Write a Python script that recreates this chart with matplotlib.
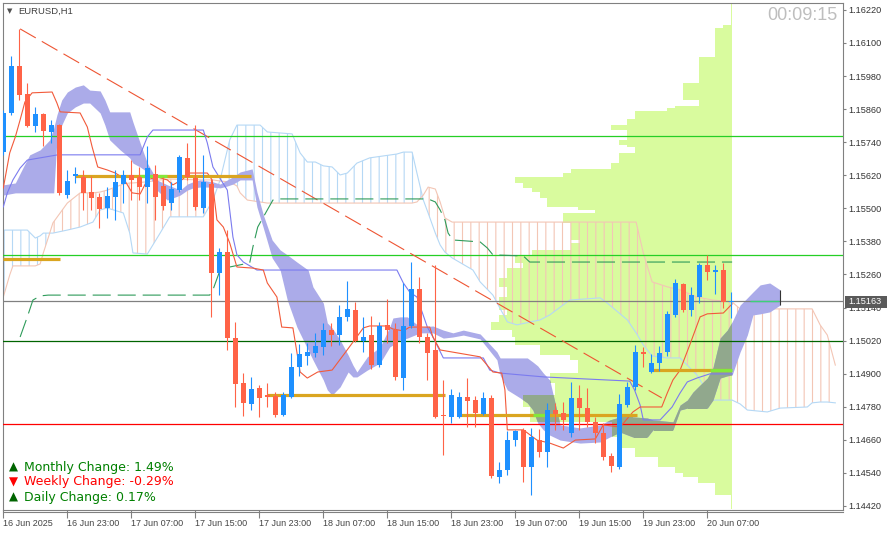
"""EURUSD H1 chart in MT4 look: candles, two Ichimoku style clouds,
tenkan/kijun lines, trend line, session levels and a volume profile."""

import matplotlib
matplotlib.use("Agg")

import matplotlib.pyplot as plt
import numpy as np
from matplotlib.lines import Line2D
from matplotlib.patches import Rectangle
from matplotlib.path import Path

plt.rcParams["font.family"] = ["Liberation Sans", "DejaVu Sans"]
plt.rcParams["hatch.linewidth"] = 0.8
plt.rcParams["lines.scale_dashes"] = False

# ---- candles, one per hour from 16 Jun 15:00 to 20 Jun 10:00 ----
OPEN = [1.15704, 1.15846, 1.16016, 1.15915, 1.15799, 1.15842, 1.15777, 1.15802, 1.15548, 1.15617,
        1.15613, 1.15559, 1.15541, 1.15501, 1.15541, 1.15588, 1.15621, 1.15613, 1.15577, 1.15624,
        1.15581, 1.15519, 1.15566, 1.15682, 1.15610, 1.15501, 1.15588, 1.15265, 1.15341, 1.15029,
        1.14866, 1.14790, 1.14848, 1.14822, 1.14819, 1.14750, 1.14815, 1.14924, 1.14964, 1.14975,
        1.14997, 1.15058, 1.15040, 1.15105, 1.15131, 1.15018, 1.15040, 1.14931, 1.15076, 1.15058,
        1.14884, 1.15073, 1.15207, 1.15033, 1.14986, 1.14750, 1.14743, 1.14743, 1.14815, 1.14804,
        1.14753, 1.14811, 1.14525, 1.14550, 1.14659, 1.14696, 1.14561, 1.14659, 1.14615, 1.14768,
        1.14757, 1.14685, 1.14811, 1.14775, 1.14724, 1.14685, 1.14601, 1.14561, 1.14786, 1.14851,
        1.14979, 1.14906, 1.14939, 1.14979, 1.15113, 1.15225, 1.15131, 1.15178, 1.15294, 1.15269,
        1.15276, 1.15160]
HIGH = [1.15857, 1.16053, 1.16151, 1.15955, 1.15868, 1.15846, 1.15820, 1.15806, 1.15639, 1.15650,
        1.15639, 1.15617, 1.15555, 1.15577, 1.15639, 1.15639, 1.15675, 1.15650, 1.15726, 1.15657,
        1.15613, 1.15595, 1.15693, 1.15737, 1.15802, 1.15693, 1.15606, 1.15356, 1.15421, 1.15087,
        1.14902, 1.14888, 1.14859, 1.14866, 1.14833, 1.14833, 1.14975, 1.15007, 1.15011, 1.15047,
        1.15084, 1.15084, 1.15149, 1.15236, 1.15160, 1.15105, 1.15109, 1.15087, 1.15171, 1.15084,
        1.15229, 1.15305, 1.15251, 1.15047, 1.15294, 1.14877, 1.14844, 1.14833, 1.14884, 1.14819,
        1.14833, 1.14822, 1.14580, 1.14692, 1.14696, 1.14703, 1.14703, 1.14699, 1.14793, 1.14793,
        1.14797, 1.14870, 1.14859, 1.14848, 1.14743, 1.14721, 1.14612, 1.14826, 1.14870, 1.15004,
        1.14997, 1.14971, 1.15000, 1.15127, 1.15243, 1.15229, 1.15214, 1.15301, 1.15331, 1.15294,
        1.15301, 1.15196]
LOW = [1.15693, 1.15840, 1.15893, 1.15795, 1.15777, 1.15726, 1.15737, 1.15548, 1.15537, 1.15592,
       1.15494, 1.15494, 1.15428, 1.15465, 1.15457, 1.15519, 1.15530, 1.15530, 1.15519, 1.15457,
       1.15494, 1.15494, 1.15559, 1.15603, 1.15494, 1.15483, 1.15105, 1.15185, 1.14986, 1.14779,
       1.14746, 1.14768, 1.14742, 1.14779, 1.14742, 1.14746, 1.14812, 1.14891, 1.14931, 1.14960,
       1.14968, 1.15000, 1.15004, 1.15091, 1.15015, 1.14979, 1.14917, 1.14924, 1.15011, 1.14877,
       1.14841, 1.15065, 1.15011, 1.14877, 1.14739, 1.14604, 1.14721, 1.14739, 1.14706, 1.14706,
       1.14750, 1.14521, 1.14503, 1.14532, 1.14637, 1.14507, 1.14460, 1.14597, 1.14561, 1.14696,
       1.14696, 1.14670, 1.14696, 1.14706, 1.14648, 1.14586, 1.14543, 1.14554, 1.14779, 1.14841,
       1.14924, 1.14902, 1.14910, 1.14964, 1.15105, 1.15124, 1.15109, 1.15156, 1.15240, 1.15189,
       1.15138, 1.15102]
CLOSE = [1.15846, 1.16016, 1.15911, 1.15799, 1.15842, 1.15780, 1.15802, 1.15555, 1.15599, 1.15624,
         1.15555, 1.15537, 1.15497, 1.15544, 1.15595, 1.15621, 1.15603, 1.15577, 1.15646, 1.15541,
         1.15508, 1.15570, 1.15686, 1.15613, 1.15505, 1.15595, 1.15265, 1.15341, 1.15029, 1.14862,
         1.14793, 1.14844, 1.14812, 1.14815, 1.14750, 1.14822, 1.14924, 1.14971, 1.14979, 1.15000,
         1.15058, 1.15040, 1.15105, 1.15134, 1.15018, 1.15033, 1.14931, 1.15073, 1.15058, 1.14888,
         1.15073, 1.15207, 1.15033, 1.14975, 1.14743, 1.14746, 1.14822, 1.14815, 1.14800, 1.14757,
         1.14811, 1.14529, 1.14550, 1.14659, 1.14692, 1.14561, 1.14670, 1.14615, 1.14768, 1.14753,
         1.14732, 1.14811, 1.14775, 1.14724, 1.14685, 1.14597, 1.14565, 1.14790, 1.14851, 1.14979,
         1.14971, 1.14939, 1.14975, 1.15116, 1.15229, 1.15131, 1.15185, 1.15294, 1.15269, 1.15276,
         1.15160, 1.15163]

TIME_TICKS = [0, 8, 16, 24, 32, 40, 48, 56, 64, 72, 80, 88]
TIME_LABELS = ["16 Jun 2025", "16 Jun 23:00", "17 Jun 07:00", "17 Jun 15:00",
               "17 Jun 23:00", "18 Jun 07:00", "18 Jun 15:00", "18 Jun 23:00",
               "19 Jun 07:00", "19 Jun 15:00", "19 Jun 23:00", "20 Jun 07:00"]
PRICE_TICKS = [1.14420, 1.14540, 1.14660, 1.14780, 1.14900, 1.15020, 1.15140, 1.15260,
               1.15380, 1.15500, 1.15620, 1.15740, 1.15860, 1.15980, 1.16100, 1.16220]
LAST_PRICE = 1.15163
TIMER = "00:09:15"
SYMBOL = "EURUSD,H1"

# ---- main cloud (filled) ----
CLOUD_X = [0.0, 1.5, 2.5, 3.3, 4.6, 5.8, 6.3, 6.7, 7.3, 8.0, 9.0, 10.0, 10.8, 12.1, 12.7, 13.3,
           14.6, 15.8, 16.2, 17.1, 18.0, 19.2, 20.5, 21.5, 22.1, 23.0, 23.7, 24.6, 26.2, 27.1,
           28.0, 28.7, 29.6, 31.1, 31.7, 32.5, 33.6, 34.6, 35.5, 36.7, 38.1, 38.7, 40.0, 40.5,
           41.1, 42.1, 43.1, 43.7, 44.2, 45.5, 47.1, 48.3, 48.7, 49.6, 50.5, 52.1, 53.7, 55.0,
           56.2, 57.5, 59.6, 61.7, 62.1, 63.0, 64.6, 65.5, 66.2, 66.8, 67.5, 68.3, 69.6, 72.1,
           74.6, 75.8, 77.1, 78.7, 80.5, 81.2, 83.7, 84.6, 85.5, 86.2, 87.1, 88.0, 88.7, 89.6,
           90.5, 91.1, 92.1, 93.0, 93.7, 94.6, 95.8, 97.1]
CLOUD_TOP = [1.15585, 1.15592, 1.15650, 1.15694, 1.15712, 1.15748, 1.15791, 1.15839, 1.15893,
             1.15922, 1.15940, 1.15948, 1.15929, 1.15926, 1.15893, 1.15850, 1.15850, 1.15850,
             1.15813, 1.15737, 1.15664, 1.15603, 1.15585, 1.15574, 1.15566, 1.15588, 1.15596,
             1.15603, 1.15596, 1.15588, 1.15603, 1.15614, 1.15632, 1.15643, 1.15559, 1.15476,
             1.15385, 1.15349, 1.15331, 1.15305, 1.15276, 1.15215, 1.15156, 1.15084, 1.15066,
             1.15022, 1.14968, 1.14931, 1.14906, 1.14961, 1.14997, 1.15069, 1.15102, 1.15106,
             1.15106, 1.15069, 1.15073, 1.15058, 1.15048, 1.15058, 1.15044, 1.14979, 1.14957,
             1.14957, 1.14957, 1.14957, 1.14942, 1.14928, 1.14902, 1.14877, 1.14714, 1.14703,
             1.14714, 1.14732, 1.14743, 1.14743, 1.14739, 1.14732, 1.14725, 1.14786, 1.14804,
             1.14833, 1.14859, 1.14884, 1.14921, 1.15029, 1.15058, 1.15088, 1.15149, 1.15175,
             1.15196, 1.15222, 1.15229, 1.15204]
CLOUD_BOT = [1.15548, 1.15556, 1.15556, 1.15556, 1.15556, 1.15556, 1.15556, 1.15748, 1.15802,
             1.15846, 1.15868, 1.15882, 1.15882, 1.15846, 1.15802, 1.15748, 1.15712, 1.15683,
             1.15664, 1.15650, 1.15632, 1.15566, 1.15530, 1.15541, 1.15548, 1.15566, 1.15574,
             1.15577, 1.15577, 1.15574, 1.15581, 1.15588, 1.15603, 1.15603, 1.15505, 1.15429,
             1.15320, 1.15276, 1.15167, 1.15069, 1.14986, 1.14950, 1.14877, 1.14841, 1.14822,
             1.14852, 1.14906, 1.14888, 1.14888, 1.14913, 1.14939, 1.14997, 1.15004, 1.15022,
             1.15029, 1.15048, 1.15048, 1.15029, 1.15033, 1.15040, 1.15026, 1.14950, 1.14895,
             1.14841, 1.14812, 1.14794, 1.14768, 1.14721, 1.14696, 1.14677, 1.14659, 1.14648,
             1.14652, 1.14670, 1.14688, 1.14670, 1.14670, 1.14696, 1.14696, 1.14768, 1.14775,
             1.14775, 1.14775, 1.14775, 1.14804, 1.14884, 1.14892, 1.14895, 1.14979, 1.15040,
             1.15113, 1.15117, 1.15124, 1.15149]

# ---- second cloud (hatched), light blue and pink spans ----
C2_X = [0.0, 0.8, 1.2, 3.0, 4.0, 4.6, 5.0, 5.8, 6.2, 8.0, 9.6, 11.2, 12.1, 13.0, 15.0, 15.8,
        16.2, 18.0, 19.6, 20.8, 25.0, 26.2, 27.1, 28.3, 29.2, 29.6, 30.5, 32.1, 33.0, 36.1,
        37.1, 38.0, 39.0, 40.0, 41.1, 42.1, 43.0, 44.2, 45.8, 49.2, 50.0, 51.1, 51.7, 52.5,
        53.1, 54.0, 54.6, 55.2, 56.1, 58.7, 59.6, 61.2, 63.0, 64.2, 67.1, 68.3, 70.8, 74.6,
        75.5, 78.0, 79.1, 80.0, 81.1, 83.0, 84.6, 86.7, 88.7, 91.1, 92.1, 93.0, 95.5, 97.1,
        100.5, 101.1, 102.1, 103.0, 104.0]
C2_BLUE = [1.15421, 1.15421, 1.15421, 1.15421, 1.15392, 1.15400, 1.15410, 1.15410, 1.15410,
           1.15421, 1.15432, 1.15450, 1.15494, 1.15501, 1.15483, 1.15410, 1.15338, 1.15334,
           1.15410, 1.15469, 1.15469, 1.15530, 1.15603, 1.15748, 1.15802, 1.15802, 1.15802,
           1.15802, 1.15777, 1.15770, 1.15701, 1.15668, 1.15668, 1.15654, 1.15650, 1.15621,
           1.15628, 1.15664, 1.15683, 1.15697, 1.15704, 1.15704, 1.15628, 1.15530, 1.15483,
           1.15410, 1.15367, 1.15341, 1.15320, 1.15276, 1.15233, 1.15185, 1.15088, 1.15077,
           1.15095, 1.15113, 1.15167, 1.15175, 1.15156, 1.15095, 1.15048, 1.15004, 1.14964,
           1.14957, 1.14957, 1.14895, 1.14804, 1.14804, 1.14790, 1.14768, 1.14761, 1.14775,
           1.14779, 1.14794, 1.14797, 1.14797, 1.14794]
C2_PINK = [1.15178, 1.15258, 1.15291, 1.15291, 1.15291, 1.15298, 1.15338, 1.15410, 1.15447,
           1.15519, 1.15556, 1.15556, 1.15559, 1.15566, 1.15588, 1.15592, 1.15592, 1.15596,
           1.15603, 1.15606, 1.15603, 1.15603, 1.15599, 1.15596, 1.15581, 1.15556, 1.15530,
           1.15523, 1.15519, 1.15519, 1.15519, 1.15519, 1.15519, 1.15519, 1.15519, 1.15519,
           1.15519, 1.15519, 1.15519, 1.15519, 1.15519, 1.15519, 1.15523, 1.15548, 1.15577,
           1.15570, 1.15523, 1.15465, 1.15450, 1.15450, 1.15450, 1.15450, 1.15450, 1.15450,
           1.15450, 1.15450, 1.15450, 1.15450, 1.15450, 1.15450, 1.15450, 1.15338, 1.15233,
           1.15215, 1.15204, 1.15178, 1.15167, 1.15160, 1.15135, 1.15135, 1.15135, 1.15135,
           1.15135, 1.15135, 1.15077, 1.15040, 1.14931]

# ---- indicator lines ----
TENKAN_X = [0.0, 0.8, 1.5, 2.1, 2.7, 3.6, 6.1, 6.7, 7.1, 9.6, 10.5, 11.1, 11.8, 13.0, 14.0,
            15.0, 16.1, 17.1, 18.0, 19.2, 20.5, 21.2, 22.3, 23.3, 25.5, 26.1, 26.7, 27.5, 28.3,
            29.2, 31.2, 32.5, 33.0, 34.2, 34.8, 36.2, 37.1, 38.0, 39.3, 41.1, 42.7, 43.9, 45.0,
            45.8, 47.9, 48.7, 50.0, 50.8, 53.3, 53.7, 54.6, 59.6, 61.2, 62.3, 62.7, 63.0, 65.0,
            66.7, 68.3, 70.0, 71.5, 74.0, 75.0, 77.1, 78.7, 79.6, 82.3, 83.0, 83.7, 84.6, 85.8,
            87.1, 88.0, 90.0, 91.1]
TENKAN_Y = [1.15574, 1.15701, 1.15759, 1.15821, 1.15886, 1.15919, 1.15922, 1.15882, 1.15850,
            1.15846, 1.15795, 1.15723, 1.15650, 1.15639, 1.15628, 1.15610, 1.15556, 1.15552,
            1.15603, 1.15614, 1.15603, 1.15585, 1.15603, 1.15628, 1.15628, 1.15603, 1.15458,
            1.15432, 1.15374, 1.15287, 1.15283, 1.15276, 1.15229, 1.15178, 1.15069, 1.15066,
            1.14906, 1.14884, 1.14906, 1.14913, 1.14975, 1.15022, 1.15066, 1.15073, 1.15073,
            1.15062, 1.15055, 1.15069, 1.15069, 1.15033, 1.14986, 1.14961, 1.14906, 1.14902,
            1.14841, 1.14696, 1.14696, 1.14659, 1.14648, 1.14630, 1.14659, 1.14663, 1.14714,
            1.14706, 1.14761, 1.14779, 1.14779, 1.14830, 1.14877, 1.14913, 1.15004, 1.15106,
            1.15117, 1.15120, 1.15153]
KIJUN_X = [0.0, 0.5, 1.2, 2.1, 3.0, 6.8, 17.1, 18.0, 18.7, 25.0, 25.5, 26.2, 28.0, 28.7, 29.2,
           30.0, 31.7, 49.2, 50.0, 50.8, 51.7, 53.0, 53.7, 55.0, 60.0, 60.8, 62.1, 67.6, 78.3,
           78.9, 79.6, 80.0, 82.1, 83.6, 84.6, 85.5, 86.7, 88.3, 91.1]
KIJUN_Y = [1.15505, 1.15556, 1.15603, 1.15646, 1.15675, 1.15694, 1.15694, 1.15759, 1.15784,
           1.15784, 1.15737, 1.15650, 1.15566, 1.15396, 1.15331, 1.15305, 1.15276, 1.15276,
           1.15229, 1.15196, 1.15178, 1.15069, 1.15033, 1.14957, 1.14957, 1.14913, 1.14902,
           1.14888, 1.14873, 1.14841, 1.14786, 1.14732, 1.14732, 1.14779, 1.14830, 1.14870,
           1.14884, 1.14899, 1.14899]
LAG_X = [2.1, 3.0, 3.7, 4.6, 5.6, 25.8, 26.2, 27.1, 28.3, 30.8, 31.2, 31.8, 33.0, 33.7, 34.2,
         51.8, 53.1, 54.0, 54.6, 55.2, 55.6, 56.2, 59.6, 60.5, 61.2, 65.0, 65.8, 91.1]
LAG_Y = [1.15033, 1.15106, 1.15167, 1.15182, 1.15185, 1.15185, 1.15204, 1.15276, 1.15287,
         1.15302, 1.15360, 1.15432, 1.15494, 1.15530, 1.15534, 1.15534, 1.15534, 1.15523,
         1.15494, 1.15458, 1.15410, 1.15385, 1.15378, 1.15356, 1.15331, 1.15327, 1.15305,
         1.15305]
TREND_X = [2.1, 82.3]
TREND_Y = [1.16151, 1.14812]

# ---- horizontal levels ----
LEVELS = [1.15762, 1.15331, 1.15163, 1.15020, 1.14716]
SESSION_START = [0.0, 9.0, 33.0, 56.8, 81.0]
SESSION_END = [7.1, 31.0, 55.2, 79.2, 90.8]
SESSION_PRICE = [1.15316, 1.15617, 1.14823, 1.14750, 1.14913]
HILITE_START = [17.1, 66.2, 88.3]
HILITE_END = [20.5, 68.0, 91.1]
HILITE_PRICE = [1.15617, 1.14750, 1.14913]

# ---- volume profile: price row edges (top to bottom) and row length in bars ----
PROFILE_EDGES = [1.16245, 1.16165, 1.16154, 1.16049, 1.15955, 1.15893, 1.15871, 1.15864,
                 1.15853, 1.15824, 1.15802, 1.15784, 1.15748, 1.15730, 1.15723, 1.15701,
                 1.15664, 1.15643, 1.15628, 1.15614, 1.15592, 1.15574, 1.15559, 1.15537,
                 1.15505, 1.15494, 1.15483, 1.15447, 1.15385, 1.15374, 1.15349, 1.15331,
                 1.15302, 1.15283, 1.15247, 1.15215, 1.15178, 1.15131, 1.15113, 1.15088,
                 1.15059, 1.15033, 1.15004, 1.14968, 1.14950, 1.14902, 1.14866, 1.14823,
                 1.14779, 1.14725, 1.14670, 1.14630, 1.14598, 1.14561, 1.14540, 1.14525,
                 1.14503, 1.14460, 1.14409]
PROFILE_LEN = [0.15, 1.1, 2.1, 4.1, 6.1, 4.1, 7.1, 8.1, 12.1, 13.1, 15.1, 13.1, 14.1, 13.1,
               12.1, 14.1, 15.1, 20.1, 21.1, 27.1, 26.1, 25.0, 24.0, 23.1, 19.25, 17.1, 21.1,
               20.1, 19.0, 20.1, 25.0, 27.1, 26.1, 28.1, 29.1, 28.1, 29.1, 28.1, 29.1, 30.1,
               27.5, 27.1, 24.0, 20.25, 19.25, 22.75, 22.1, 26.1, 25.25, 15.0, 13.75, 12.1,
               9.25, 7.1, 6.1, 4.25, 2.1, 0.15]
PROFILE_RIGHT = 91.1

CHANGE_NAMES = ["Monthly", "Weekly", "Daily"]
CHANGE_PCT = [1.49, -0.29, 0.17]

BULL = "#1E90FF"
BEAR = "#FF6347"
LAVENDER = "#ABABE9"
CLOUD_ON_PROFILE = "#91A88D"
PROFILE_GREEN = "#D9FB9E"
LIGHT_BLUE = "#B5D8F5"
PINK = "#F3C6B5"

W, H = 889, 535


def fx(px):
    return px / W


def fy(py):
    return 1 - py / H


def main():
    fig = plt.figure(figsize=(W / 100, H / 100), dpi=100)
    ax = fig.add_axes([fx(3), fy(509.5), (843 - 3) / W, (509.5 - 3) / H])
    ax.set_xlim(-0.04, 104.96)
    ax.set_ylim(1.14407, 1.16245)

    # volume profile, anchored on the last bar
    lo = np.array(PROFILE_EDGES[1:])
    hi = np.array(PROFILE_EDGES[:-1])
    lens = np.array(PROFILE_LEN)
    bars = ax.barh(lo, lens, height=hi - lo, left=PROFILE_RIGHT - lens, align="edge",
                   color=PROFILE_GREEN, lw=0, zorder=1)
    profile_path = Path.make_compound_path(
        *[b.get_path().transformed(b.get_patch_transform()) for b in bars])

    # hatched cloud
    blue = np.array(C2_BLUE)
    pink = np.array(C2_PINK)
    with plt.rc_context({"hatch.color": LIGHT_BLUE}):
        ax.fill_between(C2_X, blue, pink, where=blue >= pink, interpolate=True,
                        facecolor="none", edgecolor=LIGHT_BLUE, hatch="||", lw=0, zorder=2)
    with plt.rc_context({"hatch.color": PINK}):
        ax.fill_between(C2_X, blue, pink, where=pink > blue, interpolate=True,
                        facecolor="none", edgecolor=PINK, hatch="||", lw=0, zorder=2)
    ax.plot(C2_X, C2_BLUE, color=LIGHT_BLUE, lw=0.8, zorder=2.5)
    ax.plot(C2_X, C2_PINK, color=PINK, lw=0.8, zorder=2.5)

    # filled cloud, darker where it lies on the profile
    ax.fill_between(CLOUD_X, CLOUD_TOP, CLOUD_BOT, color=LAVENDER, lw=0, zorder=3)
    dark = ax.fill_between(CLOUD_X, CLOUD_TOP, CLOUD_BOT, color=CLOUD_ON_PROFILE, lw=0,
                           zorder=3.1)
    dark.set_clip_path(profile_path, ax.transData)

    # levels
    level_colors = ["#25CF25", "#25CF25", "#808080", "#006400", "#FF0000"]
    for price, col in zip(LEVELS, level_colors):
        ax.axhline(price, color=col, lw=0.9, zorder=4)
    ax.hlines(LAST_PRICE, 93.3, 96.9, color="#3DD17A", lw=1.0, zorder=4.5)
    ax.vlines(97.1, 1.15149, 1.15204, color="#333333", lw=0.8, zorder=4.5)

    # lines
    ax.plot(TREND_X, TREND_Y, color="#EE5533", lw=0.8, dashes=(13, 5), zorder=5)
    ax.plot(LAG_X, LAG_Y, color="#2E9B5A", lw=0.8, dashes=(13, 5), zorder=5)
    ax.plot(KIJUN_X, KIJUN_Y, color="#7B7BEF", lw=0.8, zorder=5)
    ax.plot(TENKAN_X, TENKAN_Y, color="#F25A3A", lw=0.8, zorder=5)

    ax.hlines(SESSION_PRICE, SESSION_START, SESSION_END, color="#DAA520", lw=2.3, zorder=5.5)
    ax.hlines(HILITE_PRICE, HILITE_START, HILITE_END, color="#84E83A", lw=2.3, zorder=5.6)

    # candles
    x = np.arange(len(OPEN))
    o, h, l, c = (np.array(v) for v in (OPEN, HIGH, LOW, CLOSE))
    colors = np.where(c >= o, BULL, BEAR)
    ax.vlines(x, l, h, colors=colors, lw=0.8, zorder=6)
    ax.bar(x, np.maximum(np.abs(c - o), 0.00004), bottom=np.minimum(o, c), width=0.66,
           color=colors, lw=0, zorder=6.1)

    # axes look
    ax.yaxis.tick_right()
    ax.set_yticks(PRICE_TICKS)
    ax.set_yticklabels([f"{p:.5f}" for p in PRICE_TICKS])
    ax.set_xticks(TIME_TICKS)
    ax.set_xticklabels(TIME_LABELS, ha="left")
    ax.tick_params(axis="y", direction="out", length=2.5, width=0.8, pad=1.5,
                   labelsize=6.6, color="#808080", labelcolor="#333333")
    ax.tick_params(axis="x", direction="out", length=5.4, width=0.8, pad=1.5,
                   labelsize=6.5, color="#808080", labelcolor="#444444")
    for s in ax.spines.values():
        s.set_color("#808080")
        s.set_linewidth(0.8)
    fig.add_artist(Line2D([fx(3), fx(843)], [fy(512), fy(512)], color="#808080", lw=0.8))

    # last price box
    fig.add_artist(Rectangle((fx(845), fy(307.5)), 42 / W, 12 / H, transform=fig.transFigure,
                             fc="#5A5A5A", ec="none", zorder=10))
    fig.text(fx(848.5), fy(301.5), f"{LAST_PRICE:.5f}", color="white", fontsize=6.6,
             va="center", ha="left", zorder=11)

    # texts
    fig.text(fx(7), fy(11), "\u25BC", fontsize=5, color="#505050", va="center",
             family="DejaVu Sans")
    fig.text(fx(18), fy(11.5), SYMBOL, fontsize=6.8, color="#404040", va="center")
    fig.text(fx(837), fy(16), TIMER, fontsize=13, color="#BEBEBE", va="center", ha="right")

    for k, (name, pct) in enumerate(zip(CHANGE_NAMES, CHANGE_PCT)):
        y = 467 + 15 * k
        if pct >= 0:
            arrow, tri_col, col = "\u25B2", "#006400", "#008000"
        else:
            arrow, tri_col, col = "\u25BC", "#FF0000", "#FF0000"
        fig.text(fx(9), fy(y), arrow, color=tri_col, fontsize=8.5, va="center",
                 family="DejaVu Sans")
        fig.text(fx(24), fy(y), f"{name} Change: {pct:.2f}%", color=col, fontsize=9,
                 va="center", family="DejaVu Sans")

    fig.savefig("out.png", dpi=100)


if __name__ == "__main__":
    main()
